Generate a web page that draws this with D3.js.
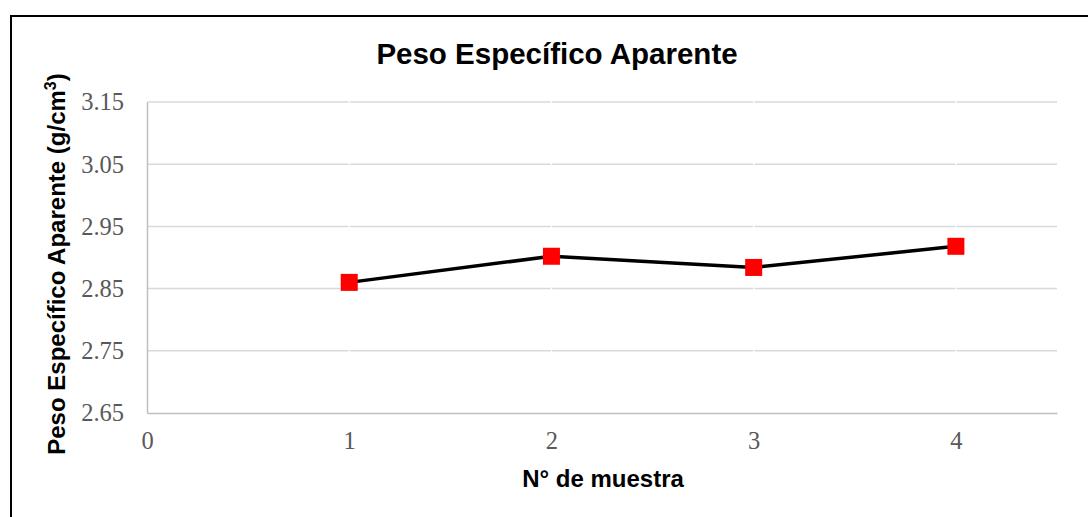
<!DOCTYPE html>
<html>
<head>
<meta charset="utf-8">
<script src="https://cdn.jsdelivr.net/npm/d3@7"></script>
<style>
  html, body { margin: 0; padding: 0; background: #fff; }
  svg { display: block; }
</style>
</head>
<body>
<svg id="chart" width="1088" height="517"></svg>
<script>
const samples = [1, 2, 3, 4];
const values = [2.860, 2.902, 2.884, 2.918];
const yTicks = [2.65, 2.75, 2.85, 2.95, 3.05, 3.15];
const xTicks = [0, 1, 2, 3, 4];
const title = "Peso Específico Aparente";
const xTitle = "N° de muestra";
const yTitle = "Peso Específico Aparente (g/cm";

const W = 1088, H = 517;
const margin = { left: 147, top: 102, right: 1057, bottom: 413 };
const svg = d3.select("#chart");

svg.append("rect").attr("x", 0).attr("y", 0).attr("width", W).attr("height", H).attr("fill", "#fff");
// outer chart border (continues past the right and bottom edges)
svg.append("rect").attr("x", 11).attr("y", 16).attr("width", W + 20).attr("height", H + 20)
  .attr("fill", "none").attr("stroke", "#000").attr("stroke-width", 2);

const x = d3.scaleLinear().domain([0, 4.5]).range([margin.left, margin.right]);
const y = d3.scaleLinear().domain([2.65, 3.15]).range([margin.bottom, margin.top]);

// gridlines
const grid = svg.append("g");
grid.selectAll("line").data(yTicks.slice(1)).enter().append("line")
  .attr("x1", margin.left).attr("x2", margin.right)
  .attr("y1", d => y(d)).attr("y2", d => y(d))
  .attr("stroke", "#d9d9d9").attr("stroke-width", 1.5);
// thin white gaps at category positions
grid.selectAll("line.gap").data(xTicks.slice(1)).enter().append("line").attr("class", "gap")
  .attr("x1", d => x(d)).attr("x2", d => x(d))
  .attr("y1", margin.top - 2).attr("y2", margin.bottom - 2)
  .attr("stroke", "#fff").attr("stroke-width", 1.3);

// axes
const yAxis = d3.axisLeft(y).tickValues(yTicks).tickSize(0).tickPadding(23).tickFormat(d3.format(".2f"));
const gy = svg.append("g").attr("transform", `translate(${margin.left},0)`).call(yAxis);
gy.select(".domain").attr("stroke", "#bfbfbf").attr("stroke-width", 1.5);
gy.selectAll("text").attr("fill", "#595959").attr("font-family", "'Liberation Serif', 'DejaVu Serif', serif")
  .attr("font-size", 24.5);

const xAxis = d3.axisBottom(x).tickValues(xTicks).tickSize(0).tickPadding(19).tickFormat(d3.format("d"));
const gx = svg.append("g").attr("transform", `translate(0,${margin.bottom})`).call(xAxis);
gx.select(".domain").attr("stroke", "#bfbfbf").attr("stroke-width", 1.5);
gx.selectAll("text").attr("fill", "#595959").attr("font-family", "'Liberation Serif', 'DejaVu Serif', serif")
  .attr("font-size", 24.5);

// data line
const pts = samples.map((s, i) => [s, values[i]]);
svg.append("path").datum(pts)
  .attr("d", d3.line().x(d => x(d[0])).y(d => y(d[1])))
  .attr("fill", "none").attr("stroke", "#000").attr("stroke-width", 3.5).attr("stroke-linejoin", "round");

const ms = 17;
svg.selectAll("rect.marker").data(pts).enter().append("rect").attr("class", "marker")
  .attr("x", d => x(d[0]) - ms / 2).attr("y", d => y(d[1]) - ms / 2)
  .attr("width", ms).attr("height", ms).attr("fill", "#ff0000");

// titles
svg.append("text").attr("x", 557).attr("y", 64).attr("text-anchor", "middle")
  .attr("font-family", "'Liberation Sans', Arial, sans-serif").attr("font-weight", "bold")
  .attr("font-size", 29.5).attr("fill", "#000").text(title);

svg.append("text").attr("x", 603).attr("y", 487).attr("text-anchor", "middle")
  .attr("font-family", "'Liberation Sans', Arial, sans-serif").attr("font-weight", "bold")
  .attr("font-size", 24).attr("fill", "#000").text(xTitle);

const yt = svg.append("text")
  .attr("transform", "translate(65,264) rotate(-90)").attr("text-anchor", "middle")
  .attr("font-family", "'Liberation Sans', Arial, sans-serif").attr("font-weight", "bold")
  .attr("font-size", 24).attr("fill", "#000");
yt.append("tspan").text(yTitle);
yt.append("tspan").attr("font-size", 16).attr("dy", -9).text("3");
yt.append("tspan").attr("dy", 9).text(")");
</script>
</body>
</html>
